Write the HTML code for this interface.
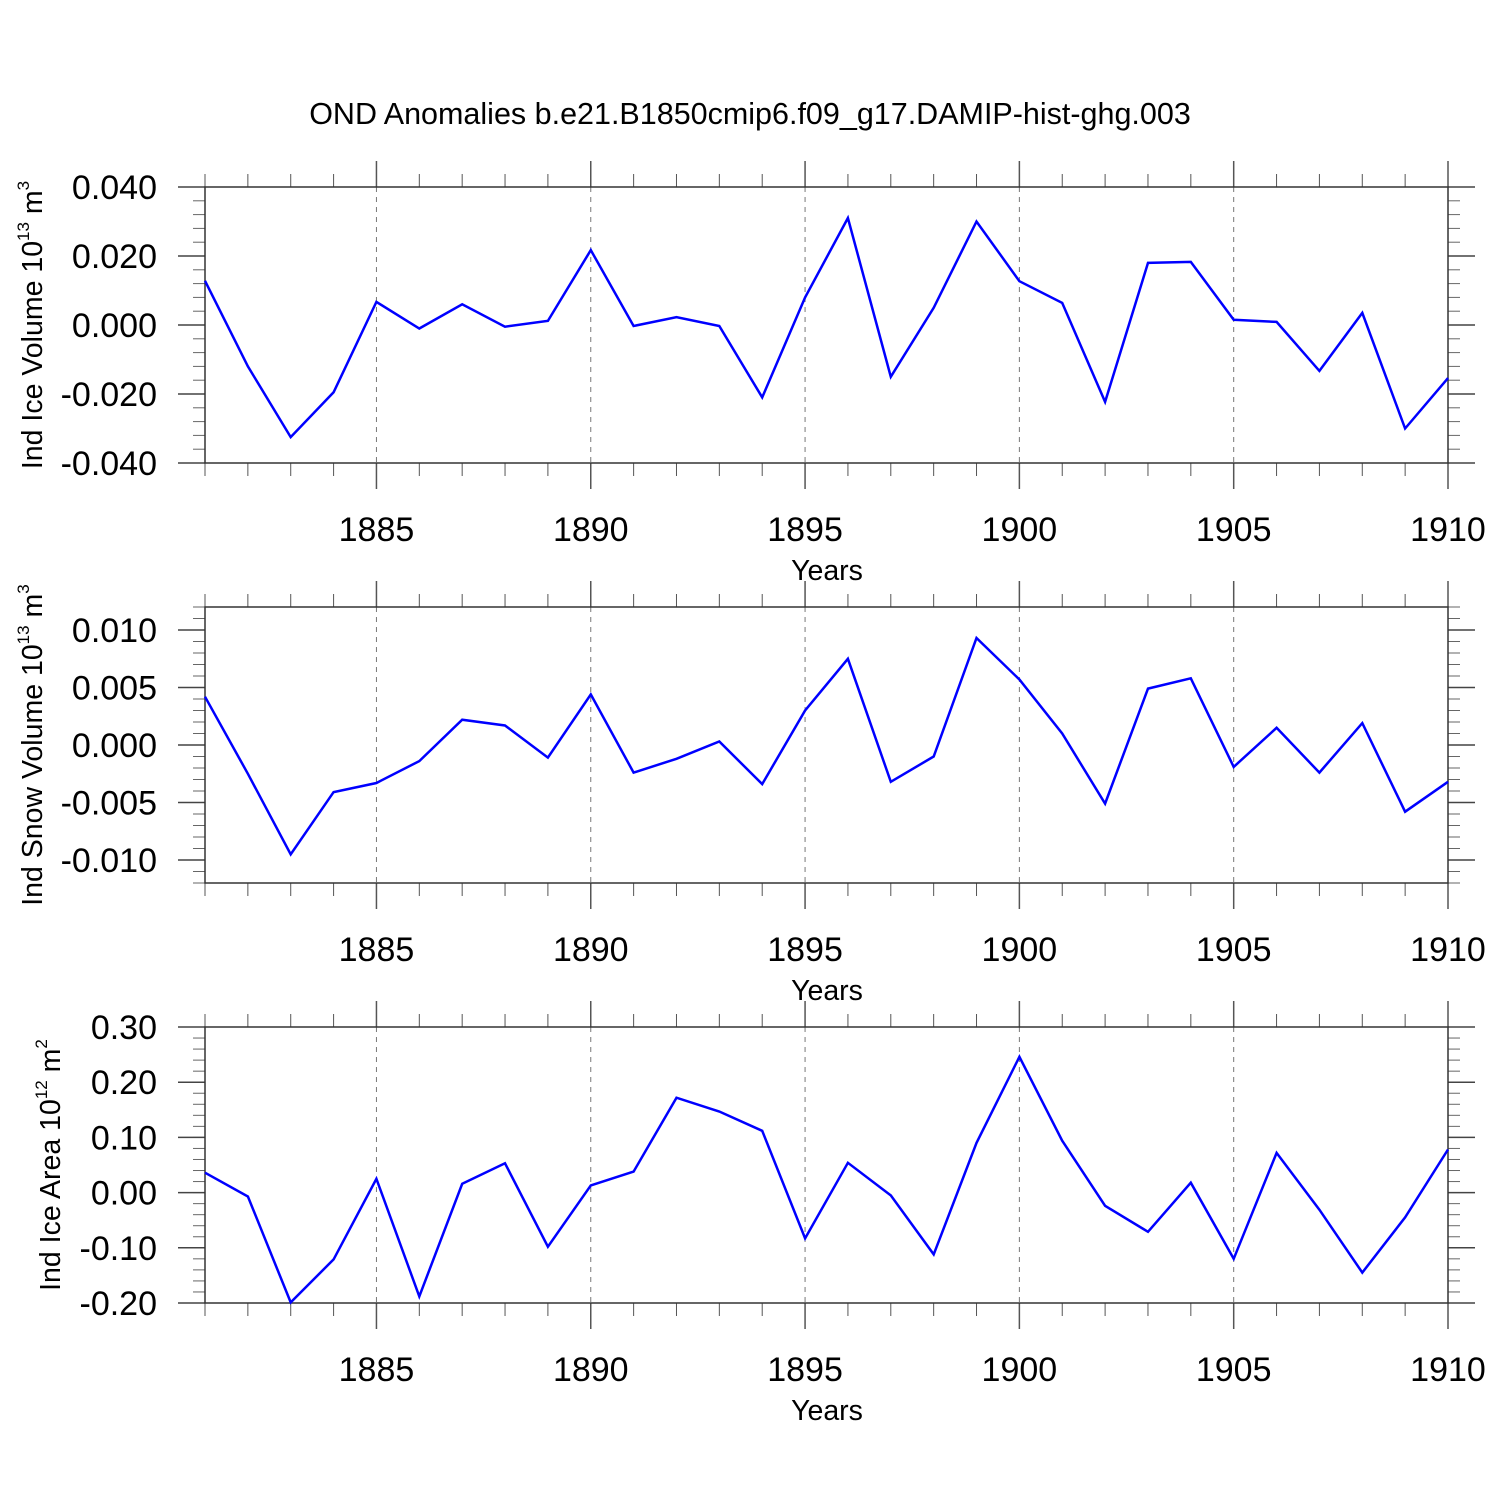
<!DOCTYPE html>
<html><head><meta charset="utf-8"><style>body{margin:0;background:#fff}svg text{font-family:"Liberation Sans",sans-serif;fill:#000}</style></head>
<body>
<svg id="c" width="1500" height="1500" xmlns="http://www.w3.org/2000/svg">
<text x="750" y="124" font-size="30.5" text-anchor="middle">OND Anomalies b.e21.B1850cmip6.f09_g17.DAMIP-hist-ghg.003</text>
</svg>
<script>
const years = [1881,1882,1883,1884,1885,1886,1887,1888,1889,1890,1891,1892,1893,1894,1895,1896,1897,1898,1899,1900,1901,1902,1903,1904,1905,1906,1907,1908,1909,1910];
const iceVolume = [0.0128,-0.012,-0.0325,-0.0195,0.0067,-0.001,0.006,-0.0005,0.0012,0.0217,-0.0003,0.0023,-0.0003,-0.021,0.008,0.031,-0.015,0.005,0.030,0.0127,0.0064,-0.0223,0.018,0.0183,0.0015,0.0009,-0.0133,0.0035,-0.030,-0.0154];
const snowVolume = [0.0042,-0.0025,-0.0095,-0.0041,-0.0033,-0.0014,0.0022,0.0017,-0.0011,0.0044,-0.0024,-0.0012,0.0003,-0.0034,0.003,0.0075,-0.0032,-0.001,0.0093,0.0057,0.001,-0.0051,0.0049,0.0058,-0.0019,0.0015,-0.0024,0.0019,-0.0058,-0.0032];
const iceArea = [0.036,-0.007,-0.199,-0.121,0.025,-0.188,0.016,0.053,-0.098,0.013,0.038,0.172,0.147,0.112,-0.083,0.054,-0.005,-0.112,0.09,0.246,0.094,-0.024,-0.071,0.018,-0.12,0.072,-0.031,-0.145,-0.045,0.078];
const xTickLabels = [1885,1890,1895,1900,1905,1910];
const iceVolTicks = [-0.04,-0.02,0,0.02,0.04];
const snowVolTicks = [-0.01,-0.005,0,0.005,0.01];
const iceAreaTicks = [-0.2,-0.1,0,0.1,0.2,0.3];

const svg = document.getElementById('c');
const NS = 'http://www.w3.org/2000/svg';
function mk(tag, at, parent){const e=document.createElementNS(NS,tag);for(const k in at)e.setAttribute(k,at[k]);(parent||svg).appendChild(e);return e;}
const X0=205,X1=1448,xmin=1881,xmax=1910;
const xs=v=>X0+(v-xmin)/(xmax-xmin)*(X1-X0);

const panels=[
 {name:'ice-volume',top:187,bot:463,ymin:-0.04,ymax:0.04,ticks:iceVolTicks,minor:0.004,dec:3,data:iceVolume,lab:['Ind Ice Volume 10','13',' m','3'],labx:42},
 {name:'snow-volume',top:607,bot:883,ymin:-0.012,ymax:0.012,ticks:snowVolTicks,minor:0.001,dec:3,data:snowVolume,lab:['Ind Snow Volume 10','13',' m','3'],labx:42},
 {name:'ice-area',top:1027,bot:1303,ymin:-0.2,ymax:0.3,ticks:iceAreaTicks,minor:0.02,dec:2,data:iceArea,lab:['Ind Ice Area 10','12',' m','2'],labx:60}
];
panels.forEach(p=>{
 const g=mk('g',{});
 
 
 const ys=v=>p.bot-(v-p.ymin)/(p.ymax-p.ymin)*(p.bot-p.top);
 xTickLabels.forEach(y=>{
   if(y>=xmax)return;
   const l=mk('line',{x1:xs(y),x2:xs(y),y1:p.top,y2:p.bot,stroke:'#777','stroke-width':1,'stroke-dasharray':'5,5'},g);
   
   
 });
 for(let y=xmin;y<=xmax;y++){
   const maj=y%5===0, len=maj?26:13;
   mk('line',{x1:xs(y),x2:xs(y),y1:p.top,y2:p.top-len,stroke:'#555','stroke-width':maj?1.5:1},g);
   mk('line',{x1:xs(y),x2:xs(y),y1:p.bot,y2:p.bot+len,stroke:'#555','stroke-width':maj?1.5:1},g);
 }
 const n=Math.round((p.ymax-p.ymin)/p.minor);
 for(let i=0;i<=n;i++){
   const v=p.ymin+i*p.minor, yy=ys(v);
   mk('line',{x1:X0,x2:X0-12,y1:yy,y2:yy,stroke:'#666','stroke-width':1},g);
   mk('line',{x1:X1,x2:X1+12,y1:yy,y2:yy,stroke:'#666','stroke-width':1},g);
 }
 p.ticks.forEach(v=>{
   const yy=ys(v);
   mk('line',{x1:X0,x2:X0-27,y1:yy,y2:yy,stroke:'#444','stroke-width':1.5},g);
   mk('line',{x1:X1,x2:X1+27,y1:yy,y2:yy,stroke:'#444','stroke-width':1.5},g);
   const t=mk('text',{x:157,y:yy+12,'font-size':34,'text-anchor':'end'},g);
   
   
   t.textContent=(Math.abs(v)<1e-12?0:v).toFixed(p.dec);
 });
 const fr=mk('rect',{x:X0,y:p.top,width:X1-X0,height:p.bot-p.top,fill:'none',stroke:'#333','stroke-width':1.5},g);
 
 
 xTickLabels.forEach(y=>{
   const t=mk('text',{x:xs(y),y:p.bot+78,'font-size':34,'text-anchor':'middle'},g);
   
   
   t.textContent=y;
 });
 const xt=mk('text',{x:827,y:p.bot+117,'font-size':28.5,'text-anchor':'middle'},g);
 
 
 xt.textContent='Years';
 const cy=(p.top+p.bot)/2;
 const yt=mk('text',{x:p.labx,y:cy,'font-size':28.5,'text-anchor':'middle',transform:`rotate(-90 ${p.labx} ${cy})`},g);
 
 
 yt.innerHTML=`${p.lab[0]}<tspan font-size="17" dy="-13">${p.lab[1]}</tspan><tspan dy="13">${p.lab[2]}</tspan><tspan font-size="17" dy="-13">${p.lab[3]}</tspan>`;
 const pts=p.data.map((v,i)=>xs(years[i]).toFixed(1)+','+ys(v).toFixed(1)).join(' ');
 const pl=mk('polyline',{points:pts,fill:'none',stroke:'#0000ff','stroke-width':2.5,'stroke-linejoin':'miter'},g);
 
 
});
</script>
</body></html>
